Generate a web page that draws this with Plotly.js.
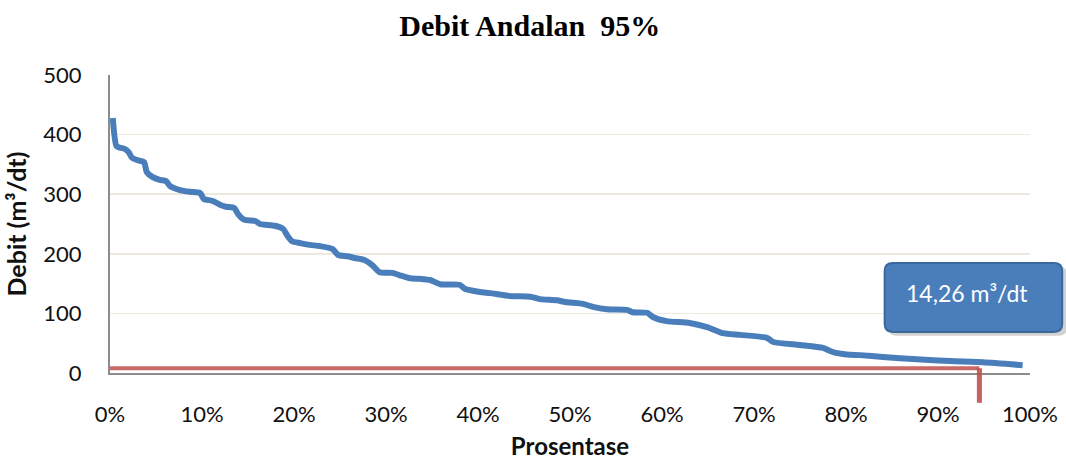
<!DOCTYPE html>
<html>
<head>
<meta charset="utf-8">
<script src="https://cdn.plot.ly/plotly-3.0.1.min.js"></script>
<style>
html,body{margin:0;padding:0;background:#fff;}
#chart{width:1066px;height:462px;}
</style>
</head>
<body>
<div id="chart"></div>
<script>
// Flow duration curve: percentage of time exceeded (%) vs discharge (m3/dt)
var prosentase = [0.3, 0.7, 1.1, 1.6, 2.0, 2.4, 3.0, 3.7, 4.0, 4.6, 5.4, 6.1, 6.5, 7.6, 8.7, 9.8,
  10.2, 11.1, 12.0, 12.6, 13.5, 13.9, 14.6, 15.8, 16.3, 17.9, 18.8, 19.3, 19.8, 20.7, 21.7, 22.8,
  24.2, 24.8, 25.8, 26.6, 27.6, 28.5, 29.3, 30.7, 31.5, 32.6, 33.7, 34.8, 35.9, 38.0, 38.6, 40.2,
  41.3, 43.5, 45.7, 46.7, 48.6, 49.5, 51.4, 52.5, 54.0, 56.2, 56.8, 58.4, 59.0, 60.5, 63.0, 64.9,
  66.6, 68.5, 71.4, 72.1, 75.0, 77.5, 78.6, 80.1, 81.5, 84.0, 87.7, 91.3, 94.9, 99.2];
var debit = [428, 381, 378, 376, 371, 361, 357, 354, 337, 329, 324, 322, 314, 307, 304, 302,
  292, 289, 282, 279, 277, 267, 257, 255, 250, 247, 242, 230, 221, 218, 215, 213,
  208, 198, 196, 193, 190, 181, 169, 168, 164, 159, 158, 156, 149, 148, 141, 136,
  134, 129, 128, 124, 122, 119, 116, 111, 107, 106, 102, 101, 94, 87, 84, 77,
  67, 64, 59, 52, 47, 42, 35, 31, 30, 27, 23, 20, 18, 13];

// Dependable-flow marker (red guide line) and label
var andalanPct = 94.5;
var andalanLevel = 8;
var andalanLabel = '14,26 m³/dt';

var xTickVals = [0, 10, 20, 30, 40, 50, 60, 70, 80, 90, 100];
var yTickVals = [0, 100, 200, 300, 400, 500];

var FONT = 'Lato, "Open Sans", sans-serif';

// rounded box in paper coords
function roundedBox(x0, x1, y0, y1, rx, ry) {
  return 'M' + (x0 + rx) + ',' + y1 + ' L' + (x1 - rx) + ',' + y1 +
    ' Q' + x1 + ',' + y1 + ' ' + x1 + ',' + (y1 - ry) +
    ' L' + x1 + ',' + (y0 + ry) + ' Q' + x1 + ',' + y0 + ' ' + (x1 - rx) + ',' + y0 +
    ' L' + (x0 + rx) + ',' + y0 + ' Q' + x0 + ',' + y0 + ' ' + x0 + ',' + (y0 + ry) +
    ' L' + x0 + ',' + (y1 - ry) + ' Q' + x0 + ',' + y1 + ' ' + (x0 + rx) + ',' + y1 + ' Z';
}

var trace = {
  x: prosentase,
  y: debit,
  type: 'scatter',
  mode: 'lines',
  line: {color: '#4A7EBB', width: 6, shape: 'spline', smoothing: 0.6},
  hoverinfo: 'x+y',
  showlegend: false
};

var layout = {
  width: 1066,
  height: 462,
  margin: {l: 110, r: 36, t: 75, b: 89},
  paper_bgcolor: '#ffffff',
  plot_bgcolor: '#ffffff',
  showlegend: false,
  title: {
    text: 'Debit Andalan\u00a0\u00a095%',
    font: {family: '"Liberation Serif", "Times New Roman", serif', size: 30, color: '#000', weight: 'bold'},
    x: 0.497, xref: 'container', xanchor: 'center',
    y: 0.945, yref: 'container', yanchor: 'middle'
  },
  xaxis: {
    range: [0, 100],
    tickvals: xTickVals,
    ticktext: xTickVals.map(function(v){ return v + '%'; }),
    ticks: '',
    ticklabelstandoff: 21,
    showgrid: false,
    zeroline: false,
    showline: true,
    linecolor: '#8C8C8C',
    linewidth: 2,
    tickfont: {family: FONT, size: 22, color: '#111'},
    title: {text: 'Prosentase', font: {family: FONT, size: 24, color: '#111', weight: 'bold'}, standoff: 12},
    fixedrange: true
  },
  yaxis: {
    range: [0, 500],
    tickvals: yTickVals,
    ticks: '',
    ticklabelstandoff: 22,
    showgrid: true,
    gridcolor: '#EDE9DE',
    gridwidth: 1.5,
    zeroline: false,
    showline: true,
    linecolor: '#8C8C8C',
    linewidth: 2,
    tickfont: {family: FONT, size: 22, color: '#111'},
    title: {text: 'Debit (m³/dt)', font: {family: FONT, size: 25, color: '#111', weight: 'bold'}, standoff: 10},
    fixedrange: true
  },
  shapes: [
    // red horizontal guide
    {type: 'line', xref: 'x', yref: 'y', x0: -0.3, x1: andalanPct, y0: andalanLevel, y1: andalanLevel,
     line: {color: 'rgba(192,80,77,0.85)', width: 4}, layer: 'above'},
    // red vertical drop
    {type: 'line', xref: 'x', yref: 'paper', x0: andalanPct, x1: andalanPct, y0: andalanLevel / 500, y1: -0.1,
     line: {color: 'rgba(192,80,77,0.9)', width: 5}, layer: 'above'},
    // label box shadow
    {type: 'path', xref: 'paper', yref: 'paper', layer: 'above',
     path: roundedBox(0.846, 1.040, 0.125, 0.358, 0.009, 0.027),
     fillcolor: 'rgba(0,0,0,0.18)', line: {width: 0}},
    // label box
    {type: 'path', xref: 'paper', yref: 'paper', layer: 'above',
     path: roundedBox(0.842, 1.035, 0.138, 0.369, 0.009, 0.027),
     fillcolor: '#4A7EBB', line: {color: '#3A679C', width: 2}}
  ],
  annotations: [
    {xref: 'paper', yref: 'paper', x: 0.9315, y: 0.27, xanchor: 'center', yanchor: 'middle',
     text: andalanLabel, showarrow: false,
     font: {family: FONT, size: 23, color: '#FFFFFF'}}
  ]
};

Plotly.newPlot('chart', [trace], layout, {displayModeBar: false, staticPlot: true});
</script>
</body>
</html>
